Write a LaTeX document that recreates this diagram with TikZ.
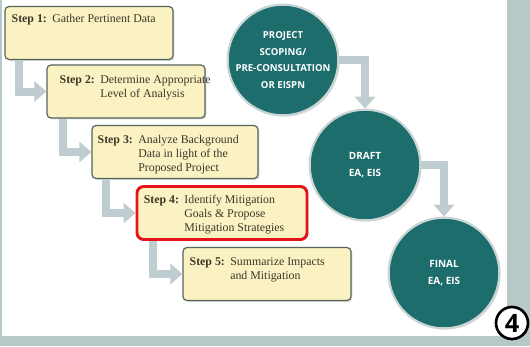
\documentclass[tikz,border=0pt]{standalone}
\usepackage{fontspec}
\setmainfont{Liberation Serif}
\newfontfamily\circfont{Open Sans}
\usetikzlibrary{arrows.meta,shadows}
\definecolor{cStepFill}{HTML}{FBF2C4}
\definecolor{cStepLine}{HTML}{56645A}
\definecolor{cText}{HTML}{3E3528}
\definecolor{cTeal}{HTML}{1D6D6D}
\definecolor{cRing}{HTML}{C9D4D4}
\definecolor{cPipe}{HTML}{BFCDD1}
\definecolor{cHighlight}{HTML}{E5141C}
\definecolor{cBack}{HTML}{B7C8C8}

\newcommand{\stepnum}[1]{\textbf{Step #1:}\hspace{4pt}}

\begin{document}
\begin{tikzpicture}[
  x=0.75pt, y=-0.75pt,
  stepbox/.style={rectangle, rounded corners=3pt, draw=cStepLine, line width=0.9pt,
                  fill=cStepFill, minimum width=#1, minimum height=39.75pt,
                  drop shadow={shadow xshift=1pt, shadow yshift=-1pt, opacity=0.3}},
  steptext/.style={anchor=north west, inner sep=0pt, align=left, text=cText,
                   font=\fontsize{8.9}{10.5}\selectfont},
  stage/.style={circle, fill=cTeal, draw=cRing, line width=1.6pt, minimum size=83pt,
                inner sep=0pt, align=center, text=white,
                font=\circfont\bfseries\fontsize{7.2}{12.4}\selectfont,
                drop shadow={shadow xshift=1pt, shadow yshift=-1pt, opacity=0.25}},
  pipe/.style={draw=cPipe, line width=6pt, -{Triangle[width=15pt,length=9pt]}},
  badge/.style={circle, draw=black, line width=2pt, fill=white, minimum size=24pt,
                inner sep=0pt, font=\circfont\bfseries\fontsize{19}{19}\selectfont},
]
\useasboundingbox (0,0) rectangle (530,346);
\fill[cBack] (0,0) rectangle (530,346);
\fill[white] (2,0) rectangle (507,336);

% ---- steps ----
\node[stepbox=126pt] (s1) at (89,33) {};
\node[stepbox=118.5pt] (s2) at (126,91.5) {};
\node[stepbox=124.5pt] (s3) at (175,152) {};
\node[stepbox=127.5pt, draw=cHighlight, line width=2.2pt, rounded corners=5pt] (s4) at (222,213) {};
\node[stepbox=126pt] (s5) at (267,274) {};

\node[steptext] (t1) at ([shift={(5.25pt,-6pt)}]s1.north west) {\stepnum{1}Gather Pertinent Data};
\node[steptext] (t2) at ([shift={(9.75pt,-6.5pt)}]s2.north west)
  {\stepnum{2}\begin{tabular}[t]{@{}l@{}}Determine Appropriate\\Level of Analysis\end{tabular}};
\node[steptext] (t3) at ([shift={(4.5pt,-6.5pt)}]s3.north west)
  {\stepnum{3}\begin{tabular}[t]{@{}l@{}}Analyze Background\\Data in light of the\\Proposed Project\end{tabular}};
\node[steptext] (t4) at ([shift={(6pt,-6.5pt)}]s4.north west)
  {\stepnum{4}\begin{tabular}[t]{@{}l@{}}Identify Mitigation\\Goals \& Propose\\Mitigation Strategies\end{tabular}};
\node[steptext] (t5) at ([shift={(5.25pt,-6.5pt)}]s5.north west)
  {\stepnum{5}\begin{tabular}[t]{@{}l@{}}Summarize Impacts\\and Mitigation\end{tabular}};

% ---- step arrows ----
\draw[pipe] ([xshift=11pt]s1.south west) |- (s2.west);
\draw[pipe] ([xshift=12.75pt]s2.south west) |- (s3.west);
\draw[pipe] ([xshift=11pt]s3.south west) |- (s4.west);
\draw[pipe] ([xshift=12.75pt]s4.south west) |- (s5.west);

% ---- document stages ----
\node[stage] (c1) at (283,60) {PROJECT\\SCOPING/\\PRE-CONSULTATION\\OR EISPN};
\node[stage, font=\circfont\bfseries\fontsize{7.5}{13}\selectfont] (c2) at (365,165) {DRAFT\\EA, EIS};
\node[stage, font=\circfont\bfseries\fontsize{7.5}{12.4}\selectfont] (c3) at (444,273) {FINAL\\EA, EIS};

\draw[pipe] (c1.east) -| (c2.north);
\draw[pipe] (c2.east) -| (c3.north);

\node[badge] (num) at (512,323) {4};
\end{tikzpicture}
\end{document}
